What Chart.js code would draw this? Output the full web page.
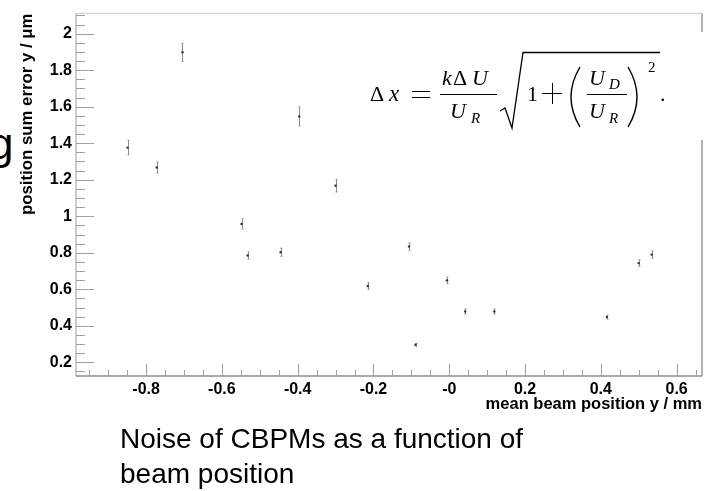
<!DOCTYPE html>
<html>
<head>
<meta charset="utf-8">
<script src="https://cdn.jsdelivr.net/npm/chart.js@4.4.1/dist/chart.umd.min.js"></script>
<style>
    body { margin: 0; background: #fff; }
    .page { position: relative; width: 704px; height: 491px; overflow: hidden; background: #fff; }
    #noiseChart { position: absolute; left: 0; top: 0; }
    .slide-g { position: absolute; left: -11px; top: 119px; font: 44px "Liberation Sans", Arial, sans-serif; color: #000; }
    .caption { position: absolute; left: 120px; top: 421px; font: 28px "Liberation Sans", Arial, sans-serif; line-height: 35px; color: #000; }
</style>
</head>
<body>
<div class="page">
    <div class="slide-g">g</div>
    <canvas id="noiseChart" width="704" height="491"></canvas>
    <div class="caption">Noise of CBPMs as a function of<br>beam position</div>
</div>

<script>
// beam position (mm) vs position sum error (um), with error bar half-lengths
const beamPos = [-0.849, -0.772, -0.704, -0.548, -0.532, -0.445, -0.396, -0.300, -0.215, -0.106, -0.089, -0.006, 0.042, 0.119, 0.416, 0.500, 0.534];
const sumError = [1.376, 1.267, 1.898, 0.958, 0.785, 0.803, 1.547, 1.167, 0.618, 0.834, 0.296, 0.649, 0.478, 0.478, 0.448, 0.743, 0.790];
const errBar = [0.040, 0.030, 0.050, 0.027, 0.020, 0.022, 0.052, 0.034, 0.018, 0.020, 0.008, 0.018, 0.014, 0.014, 0.010, 0.018, 0.020];

const xTicks = [-0.8, -0.6, -0.4, -0.2, 0, 0.2, 0.4, 0.6];
const xTickLabels = ['-0.8', '-0.6', '-0.4', '-0.2', '-0', '0.2', '0.4', '0.6'];
const yTicks = [0.2, 0.4, 0.6, 0.8, 1.0, 1.2, 1.4, 1.6, 1.8, 2.0];
const yTickLabels = ['0.2', '0.4', '0.6', '0.8', '1', '1.2', '1.4', '1.6', '1.8', '2'];

const xRange = [-0.985, 0.667];
const yRange = [0.125, 2.11];

const sans = '"Liberation Sans", Arial, sans-serif';

// ROOT style frame with inward ticks
const rootFrame = {
    id: 'rootFrame',
    afterDatasetsDraw(chart) {
        const { ctx, chartArea: a, scales: { x, y } } = chart;
        ctx.save();
        ctx.lineWidth = 1.5;
        ctx.strokeStyle = '#d6d6d6';
        ctx.beginPath(); ctx.moveTo(a.left, a.top); ctx.lineTo(a.right, a.top); ctx.stroke();
        ctx.strokeStyle = '#bdbdbd';
        ctx.beginPath(); ctx.moveTo(a.left, a.top); ctx.lineTo(a.left, a.bottom); ctx.stroke();
        ctx.strokeStyle = '#9a9a9a';
        ctx.beginPath(); ctx.moveTo(a.right, a.top); ctx.lineTo(a.right, a.bottom); ctx.stroke();
        ctx.strokeStyle = '#8c8c8c';
        ctx.beginPath(); ctx.moveTo(a.left, a.bottom); ctx.lineTo(a.right, a.bottom); ctx.stroke();

        ctx.lineWidth = 1;
        ctx.strokeStyle = '#a0a0a0';
        // minor ticks every 0.05, major ones on the labelled values
        for (let v = 0.15; v <= yRange[1]; v += 0.05) {
            const py = Math.round(y.getPixelForValue(v)) + 0.5;
            const major = yTicks.some(t => Math.abs(t - v) < 1e-6);
            ctx.beginPath(); ctx.moveTo(a.left, py); ctx.lineTo(a.left + (major ? 18 : 9), py); ctx.stroke();
        }
        for (let v = -0.95; v <= xRange[1]; v += 0.05) {
            const px = Math.round(x.getPixelForValue(v)) + 0.5;
            const major = xTicks.some(t => Math.abs(t - v) < 1e-6);
            ctx.beginPath(); ctx.moveTo(px, a.bottom); ctx.lineTo(px, a.bottom - (major ? 12 : 6)); ctx.stroke();
        }
        ctx.restore();
    }
};

const errorBars = {
    id: 'errorBars',
    beforeDatasetsDraw(chart) {
        const { ctx, scales: { x, y } } = chart;
        ctx.save();
        ctx.strokeStyle = '#8f8f8f';
        ctx.lineWidth = 1;
        beamPos.forEach((bx, i) => {
            const px = Math.round(x.getPixelForValue(bx)) + 0.5;
            const y1 = y.getPixelForValue(sumError[i] - errBar[i]);
            const y2 = y.getPixelForValue(sumError[i] + errBar[i]);
            ctx.beginPath(); ctx.moveTo(px, y1); ctx.lineTo(px, y2); ctx.stroke();
            ctx.beginPath();
            ctx.moveTo(px - 1, y1); ctx.lineTo(px + 1, y1);
            ctx.moveTo(px - 1, y2); ctx.lineTo(px + 1, y2);
            ctx.stroke();
        });
        ctx.restore();
    }
};

// the pasted formula in the upper right corner
const formula = {
    id: 'formula',
    afterDraw(chart) {
        const ctx = chart.ctx;
        ctx.save();
        ctx.fillStyle = '#fff';
        ctx.fillRect(360, 32, 344, 108);
        ctx.fillStyle = '#000';
        ctx.strokeStyle = '#000';
        ctx.textBaseline = 'alphabetic';
        const serif = '"Liberation Serif", "Times New Roman", serif';
        const glyph = (t, x, yb, size, it) => {
            ctx.font = (it ? 'italic ' : '') + (size || 22) + 'px ' + serif;
            ctx.fillText(t, x, yb);
        };
        const line = (x1, y1, x2, y2, w) => {
            ctx.lineWidth = w || 1;
            ctx.beginPath(); ctx.moveTo(x1, y1); ctx.lineTo(x2, y2); ctx.stroke();
        };
        glyph('Δ', 370, 101);
        glyph('x', 389, 101, 23, true);
        line(412, 91.5, 430, 91.5);
        line(412, 97.5, 430, 97.5);
        // k dU / U_R
        glyph('k', 442, 85, 22, true);
        glyph('Δ', 453, 85);
        glyph('U', 472, 85, 22, true);
        line(440, 94.5, 497, 94.5);
        glyph('U', 450, 118, 22, true);
        glyph('R', 471, 123, 15, true);
        // radical
        ctx.lineWidth = 1.3;
        ctx.beginPath();
        ctx.moveTo(500, 111); ctx.lineTo(505, 108); ctx.lineTo(512, 128); ctx.lineTo(523, 52.5); ctx.lineTo(660, 52.5);
        ctx.stroke();
        glyph('1', 527, 101);
        line(542, 93.5, 562, 93.5);
        line(552.5, 83, 552.5, 104);
        ctx.lineWidth = 1.4;
        ctx.beginPath(); ctx.moveTo(580, 67); ctx.quadraticCurveTo(562, 97, 580, 127); ctx.stroke();
        ctx.beginPath(); ctx.moveTo(628, 67); ctx.quadraticCurveTo(646, 97, 628, 127); ctx.stroke();
        glyph('U', 589, 85, 22, true);
        glyph('D', 609, 89, 15, true);
        glyph('U', 589, 118, 22, true);
        glyph('R', 609, 123, 15, true);
        line(587, 94.5, 627, 94.5);
        glyph('2', 648, 72, 15);
        glyph('.', 660, 101);
        ctx.restore();
    }
};

const boldTick = { family: sans, size: 16, weight: 'bold' };

new Chart(document.getElementById('noiseChart'), {
    type: 'scatter',
    data: {
        datasets: [{
            data: beamPos.map((bx, i) => ({ x: bx, y: sumError[i] })),
            pointRadius: 1.2,
            pointHoverRadius: 1.2,
            pointBorderWidth: 0,
            backgroundColor: '#333'
        }]
    },
    options: {
        responsive: false,
        animation: false,
        events: [],
        layout: { padding: { top: 12, right: 2, left: 0, bottom: 0 } },
        plugins: { legend: { display: false }, tooltip: { enabled: false } },
        scales: {
            x: {
                type: 'linear',
                min: xRange[0],
                max: xRange[1],
                afterBuildTicks: (scale) => { scale.ticks = xTicks.map(v => ({ value: v })); },
                afterFit: (scale) => { scale.height = 115; },
                grid: { display: false, drawTicks: false },
                border: { display: false },
                ticks: {
                    autoSkip: false,
                    maxRotation: 0,
                    padding: 4,
                    color: '#000',
                    font: boldTick,
                    callback: (v, i) => xTickLabels[i]
                },
                title: {
                    display: true,
                    text: 'mean beam position y / mm',
                    align: 'end',
                    color: '#000',
                    font: { family: sans, size: 16.5, weight: 'bold' },
                    padding: { top: 0, bottom: 77 }
                }
            },
            y: {
                min: yRange[0],
                max: yRange[1],
                afterBuildTicks: (scale) => { scale.ticks = yTicks.map(v => ({ value: v })); },
                afterFit: (scale) => { scale.width = 76; },
                grid: { display: false, drawTicks: false },
                border: { display: false },
                ticks: {
                    autoSkip: false,
                    padding: 4,
                    color: '#000',
                    font: boldTick,
                    callback: (v, i) => yTickLabels[i]
                },
                title: {
                    display: true,
                    text: 'position sum error y / μm',
                    align: 'end',
                    color: '#000',
                    font: { family: sans, size: 16.8, weight: 'bold' },
                    padding: { top: 17.5, bottom: 0 }
                }
            }
        }
    },
    plugins: [rootFrame, errorBars, formula]
});
</script>
</body>
</html>
